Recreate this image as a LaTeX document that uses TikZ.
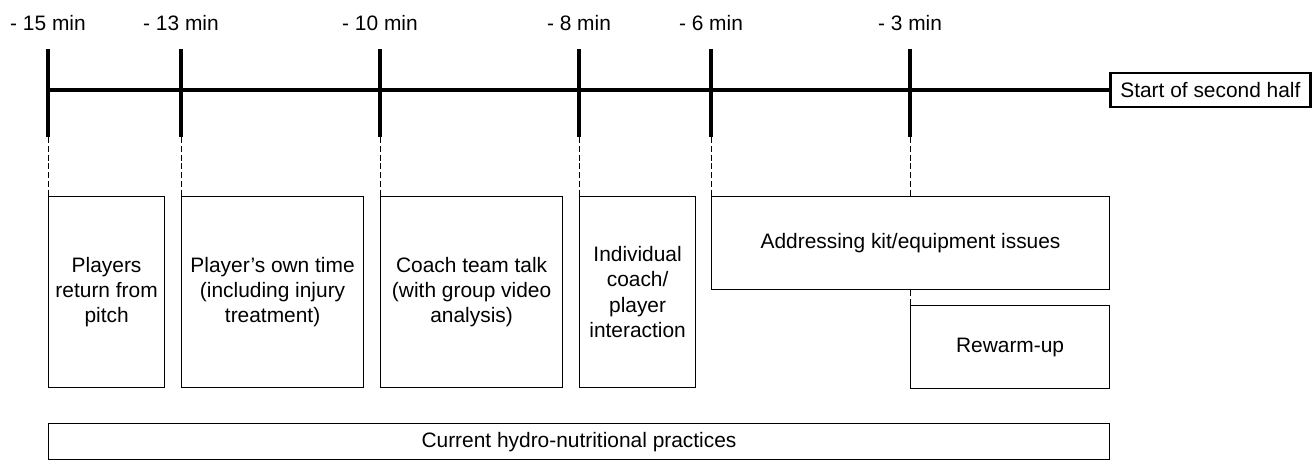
\documentclass[tikz,border=0pt]{standalone}
\usepackage{fontspec}
\setmainfont{Liberation Sans}
\usepackage{tikz}
\usetikzlibrary{positioning, calc}

\begin{document}
\begin{tikzpicture}[x=0.02cm, y=-0.02cm,
  font=\fontsize{11.9}{14.4}\selectfont,
  axisline/.style={line width=1.8pt, line cap=butt},
  guide/.style={line width=0.5pt, dash pattern=on 3.4pt off 1.6pt},
  phase/.style={draw, line width=0.7pt, anchor=north west, align=center, inner sep=2pt}]
  \useasboundingbox (0,0) rectangle (1312,472);

  % zeitachse: ticks und beschriftung
  \foreach \x/\m [count=\i] in {48/15, 181/13, 380/10, 579/8, 711/6, 910/3} {
    \coordinate (t\i) at (\x,49);
    \coordinate (b\i) at (\x,137);
    \node (l\i) at (\x,23) {- \m\ min};
    \draw[axisline] (t\i) -- (b\i);
  }

  % anpfiff zweite halbzeit
  \node[draw, line width=1.6pt, anchor=west, minimum width=4cm, minimum height=0.68cm,
    inner sep=2pt] (start) at (1109,90) {Start of second half};
  \coordinate (o) at (48,90);
  \draw[axisline] (o) -- (start.west);

  % phasen
  \node[phase, minimum width=2.32cm, minimum height=3.82cm] (pitch) at (48,196)
    {Players\\return from\\pitch};
  \node[phase, minimum width=3.64cm, minimum height=3.82cm] (own) at (181,196)
    {Player’s own time\\(including injury\\treatment)};
  \node[phase, minimum width=3.64cm, minimum height=3.82cm] (talk) at (380,196)
    {Coach team talk\\(with group video\\analysis)};
  \node[phase, minimum width=2.32cm, minimum height=3.82cm] (indiv) at (579,196)
    {Individual\\coach/\\player\\interaction};
  \node[phase, minimum width=7.96cm, minimum height=1.86cm] (kit) at (711,196)
    {Addressing kit/equipment issues};
  \node[phase, minimum width=3.98cm, minimum height=1.66cm] (warm) at (910,305)
    {Rewarm-up};
  \node[phase, minimum width=21.22cm, minimum height=0.72cm] (hydro) at (48,423)
    {Current hydro-nutritional practices};

  % hilfslinien
  \draw[guide] (b1) -- (pitch.north west);
  \draw[guide] (b2) -- (own.north west);
  \draw[guide] (b3) -- (talk.north west);
  \draw[guide] (b4) -- (indiv.north west);
  \draw[guide] (b5) -- (kit.north west);
  \draw[guide] (b6) -- (b6 |- kit.north);
  \draw[guide] (b6 |- kit.south) -- (warm.north west);
\end{tikzpicture}
\end{document}
